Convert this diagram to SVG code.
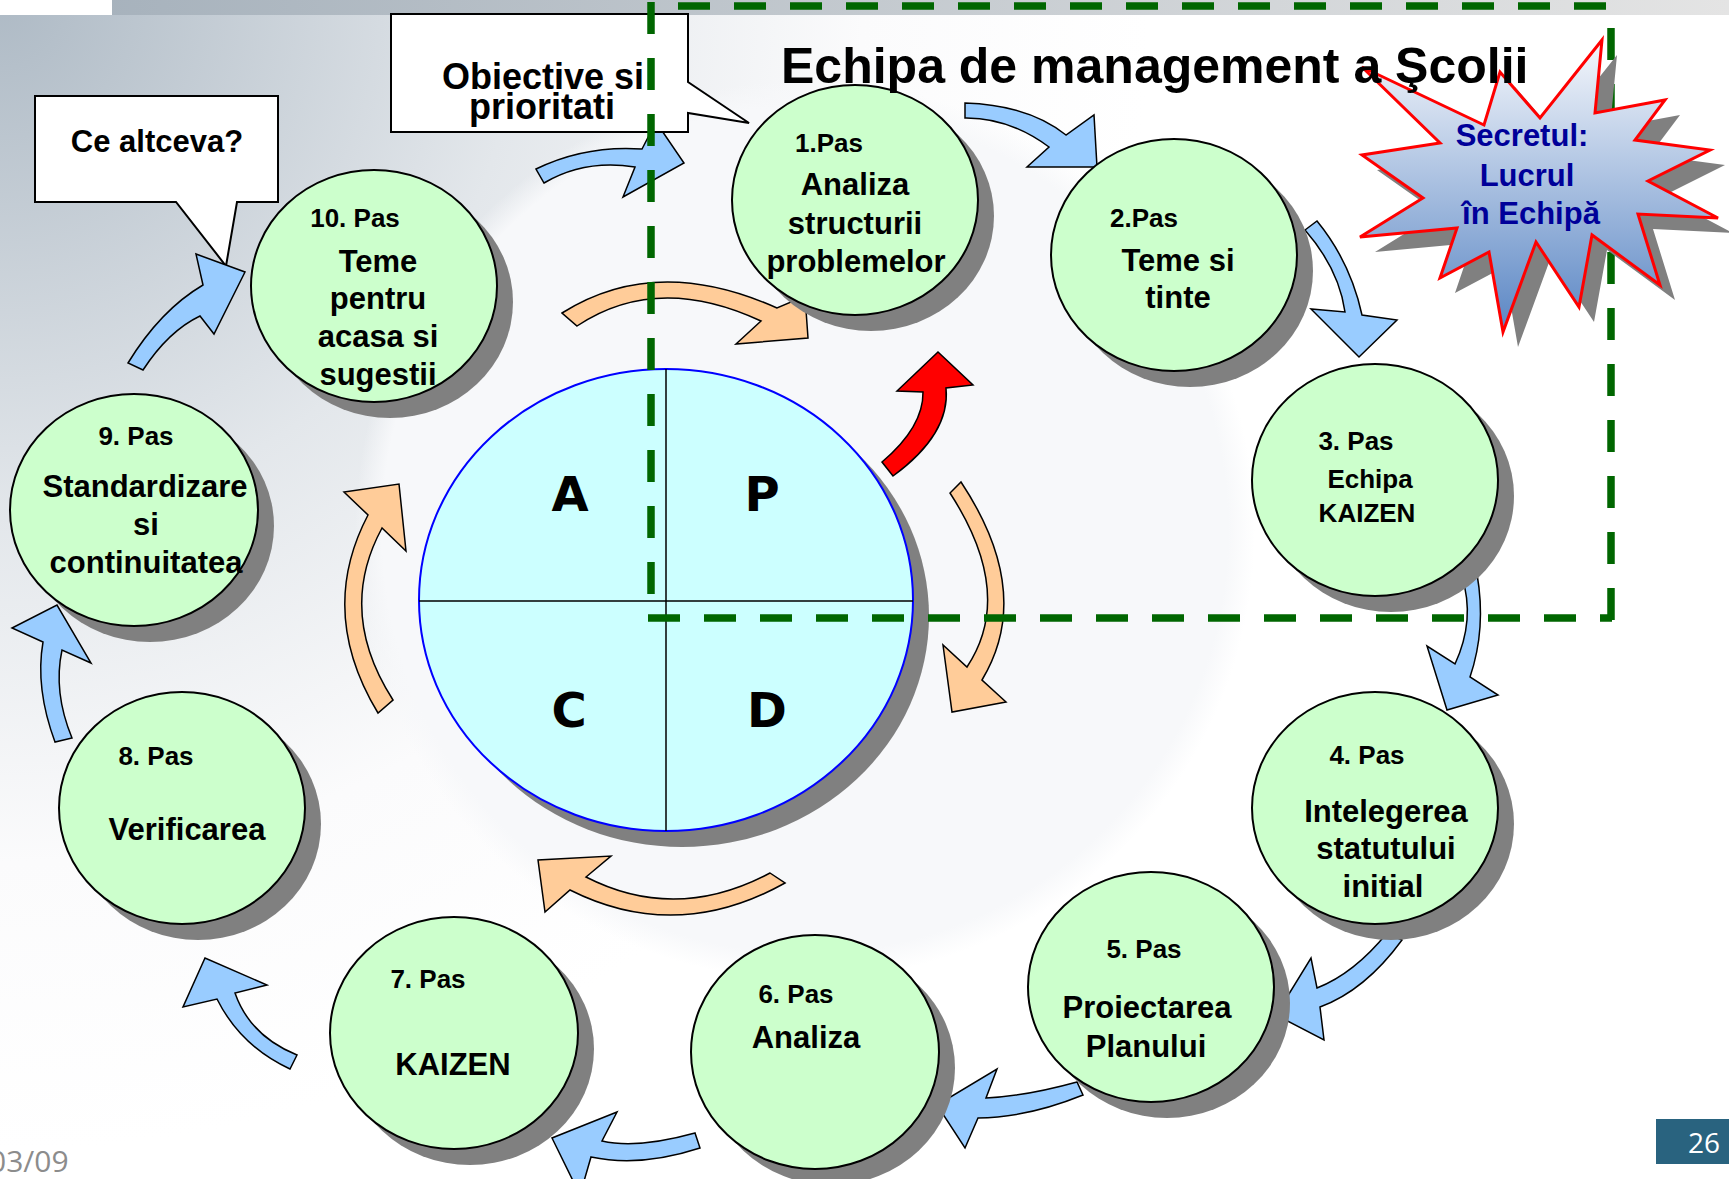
<svg xmlns="http://www.w3.org/2000/svg" width="1729" height="1179" viewBox="0 0 1729 1179">
<defs>
<radialGradient id="bg" cx="0" cy="0" r="1150" gradientUnits="userSpaceOnUse">
<stop offset="0" stop-color="#aebac5"/>
<stop offset="0.45" stop-color="#e3e7eb"/>
<stop offset="0.75" stop-color="#fbfbfc"/>
<stop offset="1" stop-color="#ffffff"/>
</radialGradient>
<radialGradient id="disc" cx="0.5" cy="0.5" r="0.5">
<stop offset="0" stop-color="#f7f8fa"/>
<stop offset="0.94" stop-color="#f7f8fa"/>
<stop offset="1" stop-color="#f7f8fa" stop-opacity="0"/>
</radialGradient>
<linearGradient id="bar" x1="0" x2="1" y1="0" y2="0">
<stop offset="0" stop-color="#a3afba"/>
<stop offset="1" stop-color="#e4e4e4"/>
</linearGradient>
<linearGradient id="starg" gradientUnits="userSpaceOnUse" x1="0" y1="40" x2="0" y2="332">
<stop offset="0" stop-color="#f6f8fc"/>
<stop offset="1" stop-color="#5a86c4"/>
</linearGradient>
<polygon id="starShape" points="1362,67 1484,125 1500,72 1540,118 1602,40 1595,113 1665,100 1635,140 1710,150 1648,181 1718,218 1638,214 1660,285 1592,235 1579,307 1536,242 1503,332 1489,252 1440,278 1457,228 1360,237 1423,198 1362,155 1440,143"/>
<style>
.shadow{fill:#808080}
.node{fill:#ccffcc;stroke:#000;stroke-width:2}
.nt{font-family:"Liberation Sans",Arial,sans-serif;font-weight:bold;font-size:31px;text-anchor:middle;fill:#000}
.np{font-size:26px}
.blue{fill:#99ccff;stroke:#000;stroke-width:1.5;stroke-linejoin:miter}
.orange{fill:#ffcc99;stroke:#000;stroke-width:1.5}
.red{fill:#ff0000;stroke:#000;stroke-width:1.5}
.callout{fill:#fff;stroke:#000;stroke-width:2}
.dash{fill:none;stroke:#006600;stroke-width:7.5;stroke-dasharray:32 24}
.pdca{font-family:"DejaVu Sans",Verdana,sans-serif;font-weight:bold;font-size:48px;text-anchor:middle;fill:#000}
.star-t{font-family:"Liberation Sans",Arial,sans-serif;font-weight:bold;font-size:31px;text-anchor:middle;fill:#000099}
</style>
</defs>

<g id="background">
<rect width="1729" height="1179" fill="url(#bg)"/>
<ellipse cx="805" cy="530" rx="450" ry="450" fill="url(#disc)"/>
<rect width="1729" height="15" fill="url(#bar)"/>
<rect width="112" height="15" fill="#ffffff"/>
</g>

<g id="callout-ce-altceva">
<path class="callout" d="M35,96 H278 V202 H237 L226,266 L176,202 H35 Z"/>
<text class="nt" x="157" y="152">Ce altceva?</text>
</g>

<g id="pdca">
<ellipse class="shadow" cx="682" cy="616" rx="247" ry="231"/>
<ellipse cx="666" cy="600" rx="247" ry="231" fill="#ccffff" stroke="#0000ff" stroke-width="2"/>
<path d="M666,369 V831 M419,601 H913" stroke="#000" stroke-width="1.5" fill="none"/>
<text class="pdca" x="570" y="511">A</text>
<text class="pdca" x="762" y="511">P</text>
<text class="pdca" x="569" y="727">C</text>
<text class="pdca" x="767" y="727">D</text>
</g>

<g id="connectors">
<path class="blue" d="M143,370 Q168.5,331 200,316 L214,334 L245,272 L196,254 L203,285 Q160.5,310 128,363 Z"/>
<path class="blue" d="M536,169 Q585,145 642,149 L656,122 L684,163 L623,197 L635,167 Q584.5,159 544,183 Z"/>
<path class="blue" d="M965,103 Q1028.5,105 1066,135 L1094,115 L1097,167 L1027,167 L1049,147 Q1009,117.5 965,118 Z"/>
<path class="blue" d="M1317,221 Q1350.5,262 1362,315 L1397,320 L1359,357 L1311,309 L1345,312 Q1339,269 1305,230 Z"/>
<path class="blue" d="M1477,574 Q1486.5,628.5 1470,677 L1498,695 L1447,710 L1427,646 L1455,664 Q1475.5,619.5 1462,577 Z"/>
<path class="blue" d="M1402,940 Q1365,990.5 1320,1007 L1324,1040 L1276,1015 L1311,958 L1317,988 Q1354,973.5 1387,933 Z"/>
<path class="blue" d="M1083,1095 Q1027.5,1117.5 978,1118 L965,1148 L937,1105 L997,1069 L986,1098 Q1026.5,1096 1077,1082 Z"/>
<path class="blue" d="M700,1148 Q640.5,1167.5 591,1157 L580,1195 L552,1138 L617,1112 L602,1141 Q637.5,1149 695,1133 Z"/>
<path class="blue" d="M297,1055 Q250,1036 235,993 L267,985 L205,958 L183,1007 L217,999 Q240.5,1046 290,1069 Z"/>
<path class="blue" d="M72,738 Q53,692 62,650 L91,663 L57,605 L12,628 L43,642 Q35,688 55,742 Z"/>
<path class="orange" d="M562,313 Q656,253.5 777,308 L805,296 L808,338 L736,344 L761,321 Q657,272.5 577,326 Z"/>
<path class="orange" d="M961,482 Q1034.5,593 982,680 L1006,702 L952,712 L943,645 L967,667 Q1015.5,594 950,493 Z"/>
<path class="orange" d="M785,883 Q676.5,943.5 570,890 L545,912 L538,860 L611,856 L586,877 Q676,923 770,873 Z"/>
<path class="orange" d="M378,713 Q317,612 368,515 L344,492 L399,484 L406,551 L382,528 Q336.5,612 393,700 Z"/>
<path class="red" d="M882,462 Q923.5,427 923,392 L897,391 L938,352 L973,385 L946,388 Q950.5,434 893,476 Z"/>
</g>

<g id="callout-obiective">
<path class="callout" d="M391,14 H688 V82 L749,123 L688,113 V132 H391 Z"/>
<text class="nt" x="543" y="89" style="font-size:36px">Obiective si</text>
<text class="nt" x="542" y="119" style="font-size:36px">prioritati</text>
</g>

<g id="node1">
<ellipse class="shadow" cx="871" cy="216" rx="123" ry="115"/>
<ellipse class="node" cx="855" cy="200" rx="123" ry="115"/>
<text class="nt np" x="829" y="152">1.Pas</text>
<text class="nt" x="855" y="195">Analiza</text>
<text class="nt" x="855" y="234">structurii</text>
<text class="nt" x="856" y="272">problemelor</text>
</g>

<g id="node2">
<ellipse class="shadow" cx="1190" cy="271" rx="123" ry="116"/>
<ellipse class="node" cx="1174" cy="255" rx="123" ry="116"/>
<text class="nt np" x="1144" y="227">2.Pas</text>
<text class="nt" x="1178" y="271">Teme si</text>
<text class="nt" x="1178" y="308">tinte</text>
</g>

<g id="node3">
<ellipse class="shadow" cx="1391" cy="496" rx="123" ry="116"/>
<ellipse class="node" cx="1375" cy="480" rx="123" ry="116"/>
<text class="nt np" x="1356" y="450">3. Pas</text>
<text class="nt np" x="1370" y="488">Echipa</text>
<text class="nt np" x="1367" y="522">KAIZEN</text>
</g>

<g id="node4">
<ellipse class="shadow" cx="1391" cy="824" rx="123" ry="116"/>
<ellipse class="node" cx="1375" cy="808" rx="123" ry="116"/>
<text class="nt np" x="1367" y="764">4. Pas</text>
<text class="nt" x="1386" y="822">Intelegerea</text>
<text class="nt" x="1386" y="859">statutului</text>
<text class="nt" x="1383" y="897">initial</text>
</g>

<g id="node5">
<ellipse class="shadow" cx="1167" cy="1003" rx="123" ry="115"/>
<ellipse class="node" cx="1151" cy="987" rx="123" ry="115"/>
<text class="nt np" x="1144" y="958">5. Pas</text>
<text class="nt" x="1147" y="1018">Proiectarea</text>
<text class="nt" x="1146" y="1057">Planului</text>
</g>

<g id="node6">
<ellipse class="shadow" cx="831" cy="1068" rx="124" ry="117"/>
<ellipse class="node" cx="815" cy="1052" rx="124" ry="117"/>
<text class="nt np" x="796" y="1003">6. Pas</text>
<text class="nt" x="806" y="1048">Analiza</text>
</g>

<g id="node7">
<ellipse class="shadow" cx="470" cy="1049" rx="124" ry="116"/>
<ellipse class="node" cx="454" cy="1033" rx="124" ry="116"/>
<text class="nt np" x="428" y="988">7. Pas</text>
<text class="nt" x="453" y="1075">KAIZEN</text>
</g>

<g id="node8">
<ellipse class="shadow" cx="198" cy="824" rx="123" ry="116"/>
<ellipse class="node" cx="182" cy="808" rx="123" ry="116"/>
<text class="nt np" x="156" y="765">8. Pas</text>
<text class="nt" x="187" y="840">Verificarea</text>
</g>

<g id="node9">
<ellipse class="shadow" cx="150" cy="526" rx="124" ry="116"/>
<ellipse class="node" cx="134" cy="510" rx="124" ry="116"/>
<text class="nt np" x="136" y="445">9. Pas</text>
<text class="nt" x="145" y="497">Standardizare</text>
<text class="nt" x="146" y="535">si</text>
<text class="nt" x="146" y="573">continuitatea</text>
</g>

<g id="node10">
<ellipse class="shadow" cx="390" cy="302" rx="123" ry="116"/>
<ellipse class="node" cx="374" cy="286" rx="123" ry="116"/>
<text class="nt np" x="355" y="227">10. Pas</text>
<text class="nt" x="378" y="272">Teme</text>
<text class="nt" x="378" y="309">pentru</text>
<text class="nt" x="378" y="347">acasa si</text>
<text class="nt" x="378" y="385">sugestii</text>
</g>

<g id="team-boundary">
<path class="dash" d="M651,2 V596"/>
<path class="dash" d="M648,618 H1612"/>
<path class="dash" d="M1611,28 V620"/>
<path class="dash" d="M678,6 H1612"/>
</g>

<g id="star">
<use href="#starShape" transform="translate(15,15)" fill="#808080"/>
<use href="#starShape" fill="url(#starg)" stroke="#ff0000" stroke-width="3"/>
<text class="star-t" x="1522" y="146">Secretul:</text>
<text class="star-t" x="1527" y="186">Lucrul</text>
<text class="star-t" x="1531" y="224">în Echipă</text>
</g>

<text id="title" x="781" y="83" style="font-family:'Liberation Sans',Arial,sans-serif;font-weight:bold;font-size:50px;fill:#000">Echipa de management a Şcolii</text>

<g id="footer">
<text x="-11" y="1172" style="font-family:'Open Sans',sans-serif;font-size:30px;fill:#8c8c8c">03/09</text>
<rect x="1656" y="1119" width="73" height="45" fill="#29637f"/>
<text x="1704" y="1153" style="font-family:'Open Sans',sans-serif;font-size:28px;fill:#ffffff;text-anchor:middle">26</text>
</g>
</svg>
